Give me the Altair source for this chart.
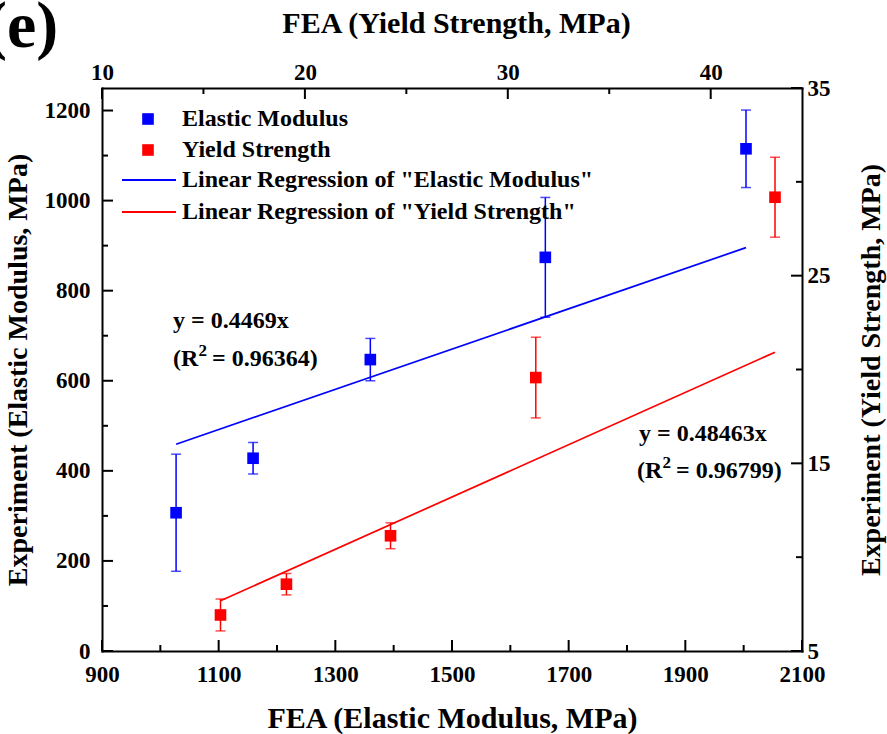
import altair as alt
import pandas as pd

# ---- data ----
em_fea = [1027, 1159, 1360, 1660, 2004]          # FEA elastic modulus (MPa)
em_exp = [307, 428, 647, 874, 1115]               # experiment elastic modulus (MPa)
em_err = [130, 35, 47, 133, 86]
ys_fea = [15.84, 19.09, 24.22, 31.38, 43.17]      # FEA yield strength (MPa)
ys_exp = [6.92, 8.56, 11.14, 19.57, 29.18]        # experiment yield strength (MPa)
ys_err = [0.85, 0.57, 0.69, 2.15, 2.13]
em_slope = 0.4469
ys_slope = 0.48463
em_r2 = "0.96364"
ys_r2 = "0.96799"

em_x_labels = [900, 1100, 1300, 1500, 1700, 1900, 2100]
em_x_minor = [1000, 1200, 1400, 1600, 1800, 2000]
em_y_labels = [0, 200, 400, 600, 800, 1000, 1200]
em_y_minor = [100, 300, 500, 700, 900, 1100]
ys_x_labels = [10, 20, 30, 40]
ys_x_minor = [15, 25, 35]
ys_y_labels = [5, 15, 25, 35]
ys_y_minor = [10, 20, 30]

legend_labels = ["Elastic Modulus", "Yield Strength",
                 'Linear Regression of "Elastic Modulus"',
                 'Linear Regression of "Yield Strength"']
panel_label = "(e)"

BLUE = "#0000FF"
RED = "#FF0000"
FONT = "Liberation Serif"
W, H = 700, 563

sxA = alt.Scale(domain=[900, 2100], nice=False, zero=False)
syA = alt.Scale(domain=[0, 1250], nice=False, zero=False)
sxB = alt.Scale(domain=[10, 44.5], nice=False, zero=False)
syB = alt.Scale(domain=[5, 35], nice=False, zero=False)

common = dict(domainColor="black", domainWidth=2, domainCap="square", ticks=False, tickSize=0,
              grid=False, format="d", labelFont=FONT, labelFontSize=23, labelFontWeight="bold",
              labelColor="black", labelFlush=False, labelOverlap=False,
              titleFont=FONT, titleFontWeight="bold", titleColor="black",
              titleAlign="center", titleBaseline="middle")

axA_x = alt.Axis(orient="bottom", values=em_x_labels, title="FEA (Elastic Modulus, MPa)",
                 labelPadding=12, titleX=350, titleY=67, titleAngle=0, titleFontSize=30, **common)
axA_y = alt.Axis(orient="left", values=em_y_labels, title="Experiment (Elastic Modulus, MPa)",
                 labelPadding=12, titleX=-84, titleY=H / 2, titleAngle=270, titleFontSize=28, **common)
axB_x = alt.Axis(orient="top", values=ys_x_labels, title="FEA (Yield Strength, MPa)",
                 labelPadding=4, titleX=354, titleY=-65, titleAngle=0, titleFontSize=30, **common)
axB_y = alt.Axis(orient="right", values=ys_y_labels, title="Experiment (Yield Strength, MPa)",
                 labelPadding=5, titleX=69, titleY=H / 2, titleAngle=270, titleFontSize=28, **common)

em = pd.DataFrame({"fea": em_fea, "exp": em_exp,
                   "lo": [v - e for v, e in zip(em_exp, em_err)],
                   "hi": [v + e for v, e in zip(em_exp, em_err)]})
ys = pd.DataFrame({"fea": ys_fea, "exp": ys_exp,
                   "lo": [v - e for v, e in zip(ys_exp, ys_err)],
                   "hi": [v + e for v, e in zip(ys_exp, ys_err)]})
em_line = pd.DataFrame({"fea": [min(em_fea), max(em_fea)],
                        "exp": [em_slope * min(em_fea), em_slope * max(em_fea)]})
ys_line = pd.DataFrame({"fea": [min(ys_fea), max(ys_fea)],
                        "exp": [ys_slope * min(ys_fea), ys_slope * max(ys_fea)]})

# No axis=None on the other layers (an explicit null axis disables the shared axis);
# they inherit the explicit axis defined on the point layer.


def series(df, line_df, sx, sy, ax_x, ax_y, color):
    rule = alt.Chart(df).mark_rule(color=color, strokeWidth=1.5).encode(
        x=alt.X("fea:Q", scale=sx), y=alt.Y("lo:Q", scale=sy), y2="hi:Q")
    cap_lo = alt.Chart(df).mark_tick(color=color, orient="horizontal", size=10, thickness=1.5).encode(
        x=alt.X("fea:Q", scale=sx), y=alt.Y("lo:Q", scale=sy))
    cap_hi = alt.Chart(df).mark_tick(color=color, orient="horizontal", size=10, thickness=1.5).encode(
        x=alt.X("fea:Q", scale=sx), y=alt.Y("hi:Q", scale=sy))
    line = alt.Chart(line_df).mark_line(color=color, strokeWidth=1.7).encode(
        x=alt.X("fea:Q", scale=sx), y=alt.Y("exp:Q", scale=sy))
    pts = alt.Chart(df).mark_point(shape="square", filled=True, size=135, opacity=1, color=color).encode(
        x=alt.X("fea:Q", scale=sx, axis=ax_x), y=alt.Y("exp:Q", scale=sy, axis=ax_y))
    return [rule, cap_lo, cap_hi, line, pts]


def vticks(values, sx, y0, y1):
    return alt.Chart(pd.DataFrame({"fea": values})).mark_rule(color="black", strokeWidth=2).encode(
        x=alt.X("fea:Q", scale=sx), y=alt.value(y0), y2=alt.value(y1))


def hticks(values, sy, x0, x1):
    return alt.Chart(pd.DataFrame({"exp": values})).mark_rule(color="black", strokeWidth=2).encode(
        y=alt.Y("exp:Q", scale=sy), x=alt.value(x0), x2=alt.value(x1))


one = pd.DataFrame({"k": [0]})


def txt(s, x, y, size=24, baseline="middle", align="left"):
    return alt.Chart(one).mark_text(text=s, font=FONT, fontSize=size, fontWeight="bold",
                                    color="black", align=align, baseline=baseline).encode(
        x=alt.value(x), y=alt.value(y))


def rsq(x0, base, value):
    # "(R", raised "2", "= value)"
    return [txt("(R", x0, base, baseline="alphabetic"),
            txt("2", x0 + 25.5, base - 10, size=17, baseline="alphabetic"),
            txt(f"= {value})", x0 + 39, base, baseline="alphabetic")]


def sq(x, y, color):
    return alt.Chart(one).mark_point(shape="square", filled=True, size=135, opacity=1,
                                     color=color).encode(x=alt.value(x), y=alt.value(y))


def seg(x0, x1, y, color):
    return alt.Chart(one).mark_rule(color=color, strokeWidth=2).encode(
        x=alt.value(x0), x2=alt.value(x1), y=alt.value(y))


decor = [
    sq(46, 31, BLUE), txt(legend_labels[0], 80, 31),
    sq(46, 62, RED), txt(legend_labels[1], 80, 62),
    seg(20, 74, 92, BLUE), txt(legend_labels[2], 80, 92),
    seg(20, 74, 124, RED), txt(legend_labels[3], 80, 124),
    txt(f"y = {em_slope}x", 71, 240, baseline="alphabetic"),
    *rsq(71, 278, em_r2),
    txt(f"y = {ys_slope}x", 537, 353, baseline="alphabetic"),
    *rsq(535, 390, ys_r2),
    txt(panel_label, -117, -41, size=66, baseline="alphabetic"),
]

layerA = alt.layer(
    *series(em, em_line, sxA, syA, axA_x, axA_y, BLUE),
    vticks(em_x_labels, sxA, H, H - 11), vticks(em_x_minor, sxA, H, H - 6),
    hticks(em_y_labels, syA, 0, 11), hticks(em_y_minor, syA, 0, 6),
    *decor,
)
layerB = alt.layer(
    *series(ys, ys_line, sxB, syB, axB_x, axB_y, RED),
    vticks(ys_x_labels, sxB, 0, 11), vticks(ys_x_minor, sxB, 0, 6),
    hticks(ys_y_labels, syB, W, W - 11), hticks(ys_y_minor, syB, W, W - 6),
)

chart = alt.layer(layerA, layerB).resolve_scale(x="independent", y="independent").properties(
    width=W, height=H,
    autosize=alt.AutoSizeParams(type="none"),
    padding={"left": 102, "top": 88, "right": 85, "bottom": 83},
).configure_view(stroke=None)

chart.save("out.html", embed_options={"renderer": "svg", "actions": False})
